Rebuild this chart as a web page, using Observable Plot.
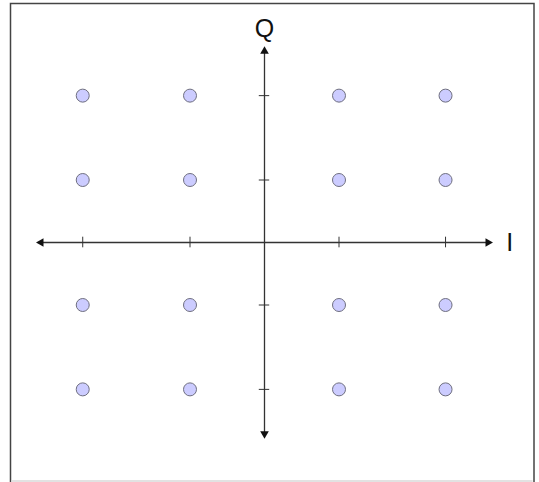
<!DOCTYPE html>
<html>
<head>
<meta charset="utf-8">
<script src="https://cdn.jsdelivr.net/npm/d3@7"></script>
<script src="https://cdn.jsdelivr.net/npm/@observablehq/plot@0.6"></script>
<style>
  html, body { margin: 0; padding: 0; background: #fff; }
  #chart svg { display: block; }
</style>
</head>
<body>
<div id="chart"></div>
<script>
// In-phase (I) and quadrature (Q) levels of the 16-point constellation
const iLevels = [-2.44, -1, 1, 2.43];
const qLevels = [-2.35, -1, 1, 2.35];
// Tick positions on the axes
const iTicks = [-2.44, -1, 1, 2.43];
const qTicks = [-2.35, -1, 1, 2.35];
// Axis extents (arrow ends)
const iExtent = [-3.0, 3.0];
const qExtent = [-3.06, 3.06];
// Axis labels
const axisLabels = [
  {label: "Q", x: 0, y: 3.42},
  {label: "I", x: 3.29, y: 0}
];

const xDomain = [-264 / 74.5, 275 / 74.5];
const yDomain = [-240 / 62.5, 242 / 62.5];

const points = iLevels.flatMap(i => qLevels.map(q => ({i, q})));
const arrowHeads = [
  {x: iExtent[1], y: 0, rot: 90},
  {x: iExtent[0], y: 0, rot: -90},
  {x: 0, y: qExtent[1], rot: 0},
  {x: 0, y: qExtent[0], rot: 180}
];
const tickHalfI = 0.085; // in Q units
const tickHalfQ = 0.07;  // in I units

const chart = Plot.plot({
  width: 539,
  height: 482,
  margin: 0,
  x: {domain: xDomain, axis: null},
  y: {domain: yDomain, axis: null},
  style: {background: "#fff", fontFamily: "'Liberation Sans', Arial, sans-serif"},
  marks: [
    Plot.frame({stroke: "#444", strokeWidth: 1.5, insetLeft: 10, insetTop: 3, insetRight: 5.5, insetBottom: -3}),
    Plot.ruleY([yDomain[0]], {dy: -1.5, stroke: "#d8d8d8", strokeWidth: 1.5, insetLeft: 11, insetRight: 6.5}),
    Plot.ruleY([0], {x1: iExtent[0], x2: iExtent[1], stroke: "#333", strokeWidth: 1.3}),
    Plot.ruleX([0], {y1: qExtent[0], y2: qExtent[1], stroke: "#333", strokeWidth: 1.3}),
    Plot.ruleX(iTicks, {x: d => d, y1: -tickHalfI, y2: tickHalfI, stroke: "#333", strokeWidth: 1}),
    Plot.ruleY(qTicks, {y: d => d, x1: -tickHalfQ, x2: tickHalfQ, stroke: "#333", strokeWidth: 1}),
    Plot.dot(arrowHeads, {x: "x", y: "y", rotate: "rot", symbol: "triangle", r: 3.2, fill: "#111", stroke: "none"}),
    Plot.dot(points, {x: "i", y: "q", r: 6.5, fill: "#ccccff", stroke: "#6f6f80", strokeWidth: 1}),
    Plot.text(axisLabels, {x: "x", y: "y", text: "label", fontSize: 25, fill: "#111", textAnchor: "middle", lineAnchor: "middle"})
  ]
});
document.getElementById("chart").appendChild(chart);
</script>
</body>
</html>
